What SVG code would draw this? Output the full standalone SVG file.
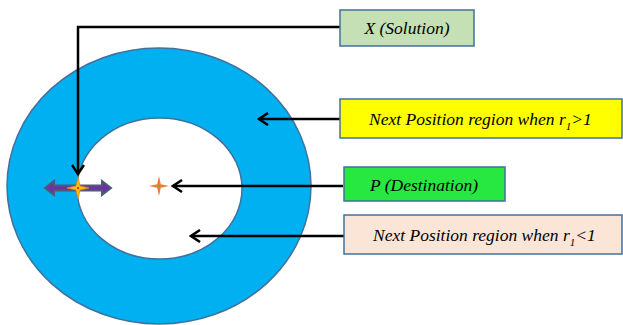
<svg xmlns="http://www.w3.org/2000/svg" width="623" height="325" viewBox="0 0 623 325">
<defs>
<marker id="open" markerWidth="12" markerHeight="14" refX="10" refY="7" orient="auto" markerUnits="userSpaceOnUse">
<path d="M1,1 L10,7 L1,13" fill="none" stroke="#000" stroke-width="2.5"/>
</marker>
</defs>
<style>
.lbl{font-family:"Liberation Serif","Times New Roman","DejaVu Serif",serif;font-style:italic;font-size:17.5px;fill:#000}
.box{stroke:#41719C;stroke-width:1.5}
.con{fill:none;stroke:#000;stroke-width:2.5}
</style>
<g id="ring">
<path d="M7,186 A152,138 0 1,0 311,186 A152,138 0 1,0 7,186 Z M77,188.5 A82.5,70.5 0 1,1 242,188.5 A82.5,70.5 0 1,1 77,188.5 Z" fill="#00B0F0" fill-rule="evenodd" stroke="#41719C" stroke-width="1.5"/>
</g>
<g id="double-arrow">
<polygon points="45,188 54,181 54,185.5 102,185.5 102,181 111,188 102,195 102,190.5 54,190.5 54,195" fill="#7030A0" stroke="#4E5B78" stroke-width="2"/>
</g>
<g id="star-x">
<path d="M78,177 L80,186 L89,188 L80,190 L78,199 L76,190 L67,188 L76,186 Z" fill="#FFC000" stroke="#ED7D31" stroke-width="0.8"/>
<circle cx="78" cy="188" r="1" fill="#FF0000"/>
</g>
<g id="star-p">
<path d="M159,176 L160.8,184.2 L169,186 L160.8,187.8 L159,196 L157.2,187.8 L149,186 L157.2,184.2 Z" fill="#ED7D31"/>
<circle cx="159" cy="186" r="0.9" fill="#70AD47"/>
</g>
<g id="connectors">
<path class="con" d="M340,27 L78,27 L78,174" marker-end="url(#open)"/>
<path class="con" d="M340,119 L259,119" marker-end="url(#open)"/>
<path class="con" d="M343,186 L173,186" marker-end="url(#open)"/>
<path class="con" d="M344,236 L191,236" marker-end="url(#open)"/>
</g>
<g id="node-x">
<rect class="box" x="340" y="10" width="134" height="36" fill="#C5E0B4"/>
<text class="lbl" x="407" y="34" text-anchor="middle">X (Solution)</text>
</g>
<g id="node-gt">
<rect class="box" x="340" y="99" width="282" height="39" fill="#FFFF00"/>
<text class="lbl" x="369" y="125">Next Position region when r<tspan font-size="11" dy="5">1</tspan><tspan dy="-5">&gt;1</tspan></text>
</g>
<g id="node-p">
<rect class="box" x="344" y="167" width="161" height="34" fill="#26E841"/>
<text class="lbl" x="424" y="191" text-anchor="middle">P (Destination)</text>
</g>
<g id="node-lt">
<rect class="box" x="344" y="215" width="278" height="39" fill="#FBE5D6"/>
<text class="lbl" x="373" y="241">Next Position region when r<tspan font-size="11" dy="5">1</tspan><tspan dy="-5">&lt;1</tspan></text>
</g>
</svg>
